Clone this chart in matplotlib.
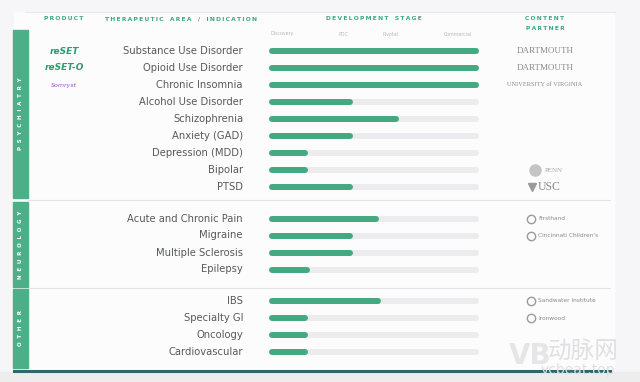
import matplotlib.pyplot as plt
from matplotlib.patches import Rectangle

# data
groups = ["PSYCHIATRY", "NEUROLOGY", "OTHER"]
indications = [
    ["Substance Use Disorder", "Opioid Use Disorder", "Chronic Insomnia",
     "Alcohol Use Disorder", "Schizophrenia", "Anxiety (GAD)",
     "Depression (MDD)", "Bipolar", "PTSD"],
    ["Acute and Chronic Pain", "Migraine", "Multiple Sclerosis", "Epilepsy"],
    ["IBS", "Specialty GI", "Oncology", "Cardiovascular"],
]
# progress along the development track, 0-100
progress = [
    [100, 100, 100, 38, 61, 38, 16, 16, 38],
    [51, 38, 38, 17],
    [52, 16, 16, 16],
]
stages = ["Discovery", "PDC", "Pivotal", "Commercial"]
stage_pos = [5, 35, 58, 91]
partners = {0: "DARTMOUTH", 1: "DARTMOUTH", 2: "UNIVERSITY of VIRGINIA",
            7: "PENN", 8: "USC", 9: "Firsthand", 10: "Cincinnati Children's",
            13: "Sandwater Institute", 14: "Ironwood"}

GREEN = "#43a980"
SIDE = "#4daf88"
TRACK = "#ececee"
TXT = "#58595b"

W, H = 640, 382
fig = plt.figure(figsize=(W / 100, H / 100), dpi=100, facecolor="#f6f6f8")

# background axes in pixel coordinates for the slide furniture
bg = fig.add_axes([0, 0, 1, 1])
bg.set_xlim(0, W)
bg.set_ylim(H, 0)
bg.axis("off")

bg.add_patch(Rectangle((14, 12), 600, 358, color="#fcfcfd", zorder=0))
bg.plot([25, 615], [12, 12], color="#e8e8ea", lw=0.8)
bg.add_patch(Rectangle((0, 372), W, 10, color="#ededed", zorder=1))
bg.plot([14, 610], [371, 371], color="#2f6670", lw=2.2, zorder=2)


def spaced(s, sep="\u2009"):
    # letter-spaced caps, wider gap between words
    return sep.join(s).replace(sep + " " + sep, "   ")


hkw = dict(color="#3da882", fontsize=4.3, fontweight="bold", va="center", ha="center")
bg.text(64, 19, spaced("PRODUCT"), **hkw)
bg.text(181, 19, spaced("THERAPEUTIC AREA / INDICATION"), **hkw)
bg.text(374, 19, spaced("DEVELOPMENT STAGE"), **hkw)
bg.text(545, 19, spaced("CONTENT"), **hkw)
bg.text(545, 28, spaced("PARTNER"), **hkw)

# row positions: 17 px step, extra gap between groups
row_y = []
k = 0
for g, names in enumerate(indications):
    ys = []
    for _ in names:
        ys.append(51 + 17 * k + 14.5 * g)
        k += 1
    row_y.append(ys)

# sidebar blocks
side_spans = [(30, 198), (202, 287), (289, 368)]
for (y0, y1), name in zip(side_spans, groups):
    bg.add_patch(Rectangle((13, y0), 15, y1 - y0, color=SIDE, zorder=3))
    bg.text(20.5, (y0 + y1) / 2, spaced(name, "  "), rotation=90, color="white",
            fontsize=4.0, fontweight="bold", ha="center", va="center", zorder=4)
for y in [200, 288]:
    bg.plot([28, 610], [y, y], color="#e4e4e6", lw=0.8)

# indication labels
flat_y = [y for ys in row_y for y in ys]
for ys, names in zip(row_y, indications):
    for y, n in zip(ys, names):
        bg.text(243, y, n, ha="right", va="center", fontsize=7.2, color=TXT)

# products
bg.text(64, flat_y[0], "reSET", color="#2e9a6e", fontsize=6.5, fontweight="bold",
        style="italic", ha="center", va="center")
bg.text(64, flat_y[1], "reSET-O", color="#2e9a6e", fontsize=6.5, fontweight="bold",
        style="italic", ha="center", va="center")
bg.text(64, flat_y[2], "Somryst", color="#9b4fd0", fontsize=4.5, style="italic",
        ha="center", va="center")

# partners
for i, p in partners.items():
    y = flat_y[i]
    if p == "DARTMOUTH":
        bg.text(545, y, p, fontsize=6.5, color="#8a8a8c", family="Liberation Serif",
                ha="center", va="center")
    elif p == "USC":
        bg.text(549, y, p, fontsize=8.5, color="#8a8a8c", family="Liberation Serif",
                ha="center", va="center")
        bg.plot([532], [y], marker="v", ms=6, color="#9a9a9c")
    elif p == "PENN":
        bg.plot([535], [y], marker="o", ms=8, color="#c4c4c6")
        bg.text(554, y, p, fontsize=5, color="#a8a8aa", ha="center", va="center",
                family="Liberation Serif")
    elif p.startswith("UNIVERSITY"):
        bg.text(545, y, p, fontsize=4.6, color="#8a8a8c", family="Liberation Serif",
                ha="center", va="center")
    else:
        bg.plot([531], [y], marker="o", ms=6, mfc="none", mec="#9a9a9c", mew=1)
        bg.text(538, y, p, fontsize=4.2, color="#8a8a8c", ha="left", va="center")

# watermark
bg.text(583, 352, "动脉网", fontsize=17, color="#e0e0e2", ha="center", va="center",
        family=["Noto Sans CJK SC", "DejaVu Sans"])
bg.text(578, 370, "vcbeat.top", fontsize=10, color="#e0e0e2", ha="center", va="center")
bg.text(530, 356, "VB", fontsize=20, color="#e6e6e8", fontweight="bold", ha="center",
        va="center")

# bars axes: x is the development track, y shares pixel rows
ax = fig.add_axes([272 / W, 0, 204 / W, 1])
ax.set_xlim(0, 100)
ax.set_ylim(H, 0)
ax.axis("off")

for ys, vals in zip(row_y, progress):
    for y, v in zip(ys, vals):
        ax.plot([0, 100], [y, y], color=TRACK, lw=4.3, solid_capstyle="round",
                clip_on=False)
        ax.plot([0, v], [y, y], color=GREEN, lw=4.3, solid_capstyle="round",
                clip_on=False)

for s, p in zip(stages, stage_pos):
    ax.text(p, 34, s, fontsize=3.4, color="#b8b8ba", ha="center", va="center")

fig.savefig("out.png", dpi=100, facecolor=fig.get_facecolor())
